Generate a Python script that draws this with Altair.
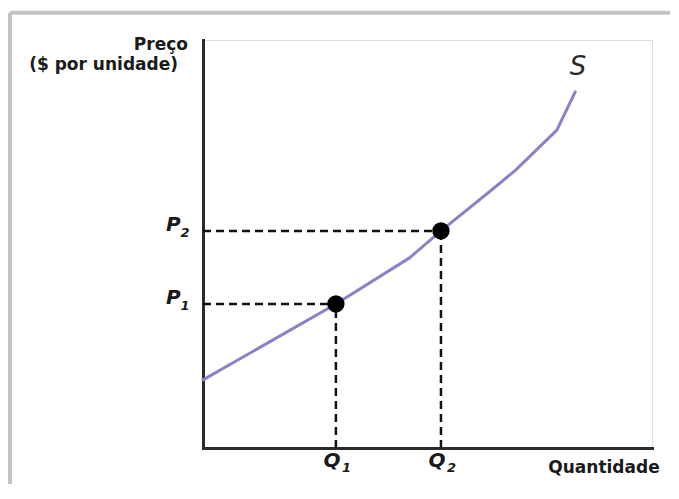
import altair as alt
import pandas as pd

# Supply curve (quantity, price) in arbitrary units
curve_q = [0.0, 1.56, 2.96, 4.60, 5.30, 6.40, 6.95, 7.88, 8.29]
curve_p = [1.67, 2.65, 3.53, 4.66, 5.32, 6.30, 6.80, 7.79, 8.73]

# Highlighted points
point_q = [2.96, 5.30]
point_p = [3.53, 5.32]
p_labels = ["P", "P"]
q_labels = ["Q", "Q"]
subs = ["1", "2"]

curve = pd.DataFrame({"q": curve_q, "p": curve_p})
pts = pd.DataFrame({"q": point_q, "p": point_p, "zero": [0, 0],
                    "plab": p_labels, "qlab": q_labels, "sub": subs,
                    "px": [-0.50, -0.50], "qy": [-0.466, -0.466]})

xs = alt.Scale(domain=[0, 10], nice=False, zero=False)
ys = alt.Scale(domain=[0, 10], nice=False, zero=False)

ax = dict(domain=True, domainColor="#2b2b2b", domainWidth=3, domainCap="square",
          ticks=False, labels=False, grid=False, title=None)

base = alt.Chart(pts)

# Outer picture frame: top and left edges only
frame_top = alt.Chart(pd.DataFrame({"x": [-4.30], "x2": [11.5], "y": [10.67]})).mark_rule(
    color="#c3c3c3", strokeWidth=4, clip=False
).encode(
    x=alt.X("x:Q", scale=xs, axis=alt.Axis(**ax)), x2="x2:Q",
    y=alt.Y("y:Q", scale=ys, axis=alt.Axis(**ax)),
)
frame_left = alt.Chart(pd.DataFrame({"x": [-4.30], "y": [10.67], "y2": [-2.0]})).mark_rule(
    color="#c3c3c3", strokeWidth=4, clip=False
).encode(x=alt.X("x:Q", scale=xs), y=alt.Y("y:Q", scale=ys), y2="y2:Q")

hdash = base.mark_rule(color="#111111", strokeWidth=2.5, strokeDash=[8, 5]).encode(
    x=alt.X("zero:Q", scale=xs), x2="q:Q", y=alt.Y("p:Q", scale=ys))
vdash = base.mark_rule(color="#111111", strokeWidth=2.5, strokeDash=[8, 5]).encode(
    x=alt.X("q:Q", scale=xs), y=alt.Y("zero:Q", scale=ys), y2="p:Q")

line = alt.Chart(curve).mark_line(color="#8e80c8", strokeWidth=3, interpolate="linear",
                                  strokeJoin="round", strokeCap="round").encode(
    x=alt.X("q:Q", scale=xs), y=alt.Y("p:Q", scale=ys))

dots = base.mark_point(shape="circle", filled=True, color="#000000", size=300, opacity=1).encode(
    x=alt.X("q:Q", scale=xs), y=alt.Y("p:Q", scale=ys))

font = "DejaVu Sans"
plab = base.mark_text(font=font, fontSize=20, fontWeight="bold", fontStyle="italic",
                      align="right", baseline="alphabetic", color="#1a1a1a").encode(
    x=alt.X("px:Q", scale=xs), y=alt.Y("p:Q", scale=ys), text="plab:N")
psub = base.mark_text(font=font, fontSize=13, fontWeight="bold", fontStyle="italic",
                      align="left", baseline="alphabetic", dx=0, dy=6, color="#1a1a1a").encode(
    x=alt.X("px:Q", scale=xs), y=alt.Y("p:Q", scale=ys), text="sub:N")
qlab = base.mark_text(font=font, fontSize=20, fontWeight="bold", fontStyle="italic",
                      align="center", baseline="alphabetic", dx=-4, color="#1a1a1a").encode(
    x=alt.X("q:Q", scale=xs), y=alt.Y("qy:Q", scale=ys), text="qlab:N")
qsub = base.mark_text(font=font, fontSize=13, fontWeight="bold", fontStyle="italic",
                      align="left", baseline="alphabetic", dx=6, dy=5, color="#1a1a1a").encode(
    x=alt.X("q:Q", scale=xs), y=alt.Y("qy:Q", scale=ys), text="sub:N")

titles = pd.DataFrame({
    "x": [-0.334, -0.557, 8.93],
    "y": [9.75, 9.26, -0.61],
    "t": ["Preço", "($ por unidade)", "Quantidade"],
})
tit_r = alt.Chart(titles.iloc[:2]).mark_text(font=font, fontSize=17, fontWeight="bold",
                                             align="right", baseline="alphabetic", color="#1a1a1a").encode(
    x=alt.X("x:Q", scale=xs), y=alt.Y("y:Q", scale=ys), text="t:N")
tit_c = alt.Chart(titles.iloc[2:]).mark_text(font=font, fontSize=17, fontWeight="bold",
                                             align="center", baseline="alphabetic", color="#1a1a1a").encode(
    x=alt.X("x:Q", scale=xs), y=alt.Y("y:Q", scale=ys), text="t:N")

slab = alt.Chart(pd.DataFrame({"x": [8.35], "y": [9.14], "t": ["S"]})).mark_text(
    font=font, fontSize=26, fontStyle="italic", align="center", baseline="alphabetic",
    color="#2a2a2a").encode(x=alt.X("x:Q", scale=xs), y=alt.Y("y:Q", scale=ys), text="t:N")

chart = alt.layer(frame_top, frame_left, hdash, vdash, line, dots, plab, psub, qlab, qsub,
                  tit_r, tit_c, slab).properties(
    width=449, height=408,
    autosize=alt.AutoSizeParams(type="none"),
    padding={"left": 195, "top": 32, "right": 18, "bottom": 36},
).configure_view(stroke=None).configure(background="white")

chart.save("out.html", embed_options={"renderer": "svg", "actions": False})
